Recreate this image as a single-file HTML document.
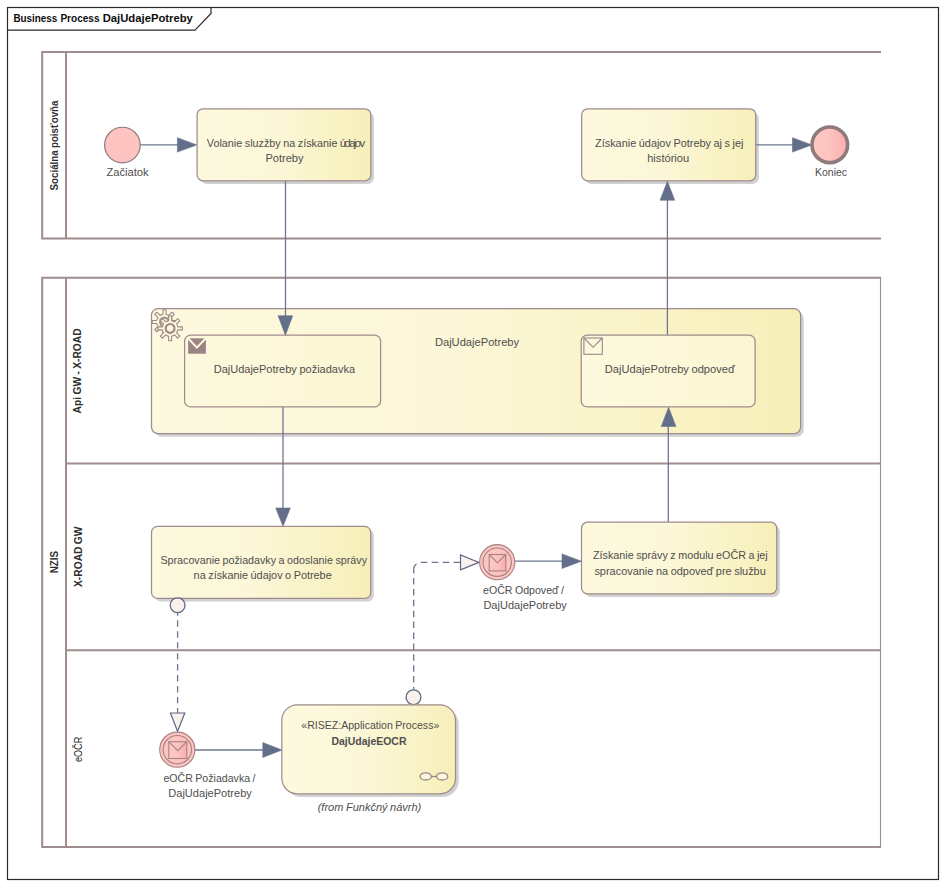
<!DOCTYPE html>
<html>
<head>
<meta charset="utf-8">
<title>Business Process DajUdajePotreby</title>
<style>
  html, body { margin: 0; padding: 0; background: #ffffff; }
  body { width: 945px; height: 886px; overflow: hidden; font-family: "Liberation Sans", sans-serif; }
  svg { display: block; }
  text { font-family: "Liberation Sans", sans-serif; font-size: 11.2px; fill: #4e4e4e; word-spacing: -0.5px; }
  .b { font-weight: bold; }
  .i { font-style: italic; }
  .ttl { font-weight: bold; font-size: 11.2px; fill: #0d0d0d; }
  .lane { font-weight: bold; font-size: 10.5px; fill: #2e2e2e; }
  .pool { stroke: #9f8c8c; stroke-width: 2; fill: none; }
  .pool1 { stroke: #a08d8d; stroke-width: 1.1; fill: none; }
  .seq { stroke: #6d7792; stroke-width: 1.3; fill: none; }
  .msg { stroke: #6b7490; stroke-width: 1.3; fill: none; stroke-dasharray: 6.4 4.55; }
  .ah { fill: #636e8a; stroke: #636e8a; stroke-width: 0.6; stroke-linejoin: miter; }
  .oh { fill: #fbf1ec; stroke: #5f6a86; stroke-width: 1.2; stroke-linejoin: miter; }
  .task { stroke: #a08c8c; stroke-width: 1.25; }
  .sh { fill: #cdcdcd; opacity: 0.9; }
</style>
</head>
<body>
<svg width="945" height="886" viewBox="0 0 945 886">
  <defs>
    <linearGradient id="gy" x1="0" y1="0" x2="1" y2="0">
      <stop offset="0" stop-color="#fdf9de"/>
      <stop offset="0.45" stop-color="#fcf7d8"/>
      <stop offset="1" stop-color="#f7efb9"/>
    </linearGradient>
    <linearGradient id="gy2" x1="0" y1="0" x2="1" y2="0">
      <stop offset="0" stop-color="#fdf9de"/>
      <stop offset="1" stop-color="#fbf6d3"/>
    </linearGradient>
    <linearGradient id="gp" x1="0" y1="0" x2="1" y2="0">
      <stop offset="0" stop-color="#fdc8c5"/>
      <stop offset="0.45" stop-color="#fdc4c1"/>
      <stop offset="1" stop-color="#fbaeac"/>
    </linearGradient>
    <filter id="blur" x="-5%" y="-5%" width="110%" height="110%">
      <feGaussianBlur stdDeviation="0.55"/>
    </filter>
  </defs>

  <rect x="0" y="0" width="945" height="886" fill="#ffffff"/>

  <!-- outer frame -->
  <rect x="7.5" y="7.5" width="931" height="872" fill="none" stroke="#2b2b2b" stroke-width="1.2"/>
  <path d="M7.5 30.2 H195 L211 13.5 V7.5" fill="none" stroke="#2b2b2b" stroke-width="1.2"/>
  <text class="ttl" x="13.4" y="21.7" textLength="43.9" lengthAdjust="spacingAndGlyphs">Business</text>
  <text class="ttl" x="60.4" y="21.7" textLength="39.1" lengthAdjust="spacingAndGlyphs">Process</text>
  <text class="ttl" x="102.7" y="21.7" textLength="90.2" lengthAdjust="spacingAndGlyphs">DajUdajePotreby</text>

  <!-- pool 1 -->
  <path class="pool" d="M881 52 H42.2 V238.5 H881"/>
  <path class="pool" d="M66 52 V238.5"/>

  <!-- pool 2 -->
  <path class="pool" d="M881.1 277.8 H42.2 V847 H881.1"/>
  <path class="pool1" d="M880.5 277.8 V847"/>
  <path class="pool" d="M66 277.8 V847"/>
  <path class="pool" d="M66 463.6 H880.5"/>
  <path class="pool" d="M66 650.2 H880.5"/>

  <!-- lane labels -->
  <text class="lane" transform="translate(58.4,190.5) rotate(-90)" textLength="90" lengthAdjust="spacingAndGlyphs">Sociálna poisťovňa</text>
  <text class="lane" transform="translate(57.9,573.3) rotate(-90)" textLength="22.4" lengthAdjust="spacingAndGlyphs">NZIS</text>
  <text class="lane" transform="translate(81.4,413.4) rotate(-90)" textLength="85" lengthAdjust="spacingAndGlyphs">Api GW - X-ROAD</text>
  <text class="lane" transform="translate(82.2,587) rotate(-90)" textLength="60.5" lengthAdjust="spacingAndGlyphs">X-ROAD GW</text>
  <text class="lane" style="font-weight:normal;font-size:11.2px;fill:#1a1a1a" transform="translate(81.9,762) rotate(-90)" textLength="25.2" lengthAdjust="spacingAndGlyphs">eOČR</text>

  <!-- shadows -->
  <rect class="sh" x="200.3" y="112.0" width="173.7" height="72.0" rx="6.5" filter="url(#blur)"/>
  <rect class="sh" x="584.9" y="112.0" width="174.0" height="72.0" rx="6.5" filter="url(#blur)"/>
  <rect class="sh" x="154.7" y="529.6" width="219.2" height="72.0" rx="6.5" filter="url(#blur)"/>
  <rect class="sh" x="584.7" y="525.4" width="195.2" height="71.6" rx="6.5" filter="url(#blur)"/>
  <rect class="sh" x="154.7" y="311.9" width="649.1" height="124.9" rx="7.0" filter="url(#blur)"/>
  <rect class="sh" x="285.0" y="708.0" width="173.7" height="89.0" rx="16.0" filter="url(#blur)"/>

  <!-- ===== connectors (under shapes) ===== -->
  <path class="seq" d="M139.5 144.9 H178"/>
  <path class="ah" d="M177.4 137.7 L196.7 144.9 L177.4 152.1 Z"/>
  <path class="seq" d="M756 144.9 H793"/>
  <path class="ah" d="M792.5 137.7 L811.8 144.9 L792.5 152.1 Z"/>


  <!-- ===== sub-process container ===== -->
  <rect class="task" x="151.5" y="308.7" width="649.1" height="124.9" rx="6.5" fill="url(#gy)"/>
  <text x="434.9" y="346.2" textLength="84.2" lengthAdjust="spacingAndGlyphs">DajUdajePotreby</text>

  <path class="seq" d="M285.5 181 V316"/>
  <path class="seq" d="M283 407 V508.5"/>
  <path class="seq" d="M668.3 522 V426"/>
  <path class="seq" d="M667.4 335.4 V200"/>

  <!-- inner tasks -->
  <rect class="task" x="184.6" y="335.1" width="196" height="71.8" rx="6" fill="url(#gy2)"/>
  <rect class="task" x="581.2" y="335.1" width="173.9" height="71.8" rx="6" fill="url(#gy2)"/>
  <text x="213.7" y="372.9" textLength="141.4" lengthAdjust="spacingAndGlyphs">DajUdajePotreby požiadavka</text>
  <text x="604.8" y="372.9" textLength="130" lengthAdjust="spacingAndGlyphs">DajUdajePotreby odpoveď</text>

  <!-- filled envelope -->
  <g>
    <rect x="188.1" y="338.3" width="17.8" height="15.4" fill="#9a8484"/>
    <path d="M187.6 337.8 L196.9 347.6 L206.3 337.8" fill="none" stroke="#fdf9de" stroke-width="2"/>
  </g>
  <!-- outline envelope -->
  <g fill="none" stroke="#9b8686" stroke-width="1.1">
    <rect x="583.9" y="338" width="18.4" height="16.3" fill="#fdf9de"/>
    <path d="M583.9 338 L593.1 347.3 L602.3 338"/>
  </g>

  <!-- gears icon -->
  <g fill="#fcf7da" stroke="#9b8686" stroke-width="1.05" stroke-linejoin="round">
    <g transform="translate(164.5,322)">
      <path id="gear" d="M7.76 -1.50 L12.30 -1.50 L12.30 1.50 L7.76 1.50 A7.90 7.90 0 0 1 6.55 4.42 L9.76 7.64 L7.64 9.76 L4.42 6.55 A7.90 7.90 0 0 1 1.50 7.76 L1.50 12.30 L-1.50 12.30 L-1.50 7.76 A7.90 7.90 0 0 1 -4.42 6.55 L-7.64 9.76 L-9.76 7.64 L-6.55 4.42 A7.90 7.90 0 0 1 -7.76 1.50 L-12.30 1.50 L-12.30 -1.50 L-7.76 -1.50 A7.90 7.90 0 0 1 -6.55 -4.42 L-9.76 -7.64 L-7.64 -9.76 L-4.42 -6.55 A7.90 7.90 0 0 1 -1.50 -7.76 L-1.50 -12.30 L1.50 -12.30 L1.50 -7.76 A7.90 7.90 0 0 1 4.42 -6.55 L7.64 -9.76 L9.76 -7.64 L6.55 -4.42 A7.90 7.90 0 0 1 7.76 -1.50 Z"/>
      <circle r="4.4" stroke-width="2.2" stroke="#a69393"/>
    </g>
    <g transform="translate(170.1,328.4)">
      <use href="#gear"/>
      <circle r="4.4" stroke-width="2.2" stroke="#a08c8c"/>
    </g>
  </g>

  <!-- arrowheads into/out of container -->
  <path class="ah" d="M278.1 315.8 L285.4 335.2 L292.7 315.8 Z"/>
  <path class="ah" d="M661.3 426.4 L668.6 407.2 L675.9 426.4 Z"/>
  <path class="ah" d="M660.1 200.2 L667.4 181.2 L674.7 200.2 Z"/>
  <path class="ah" d="M275.7 508 L283 526.2 L290.3 508 Z"/>

  <!-- ===== pool1 shapes ===== -->
  <circle cx="122.4" cy="145.05" r="17.8" fill="#fdc4c1" stroke="#8d7a7a" stroke-width="1.2"/>
  <text x="106.5" y="175.8" textLength="42" lengthAdjust="spacingAndGlyphs">Začiatok</text>

  <rect class="task" x="197.1" y="108.8" width="173.7" height="72" rx="6" fill="url(#gy)"/>
  <text x="206.8" y="146.9" textLength="130.6" lengthAdjust="spacingAndGlyphs">Volanie sluzžby na získanie</text>
  <text x="339.8" y="146.9" textLength="25.3" lengthAdjust="spacing">údajov</text>
  <text x="265.4" y="162.1" textLength="38.1" lengthAdjust="spacingAndGlyphs">Potreby</text>

  <rect class="task" x="581.7" y="108.8" width="174" height="72" rx="6" fill="url(#gy)"/>
  <text x="595" y="146.9" textLength="148.5" lengthAdjust="spacingAndGlyphs">Získanie údajov Potreby aj s jej</text>
  <text x="647.2" y="162.1" textLength="42" lengthAdjust="spacingAndGlyphs">históriou</text>

  <circle cx="829.8" cy="144.8" r="17.8" fill="url(#gp)" stroke="#8f7b7b" stroke-width="3.6"/>
  <text x="815" y="175.8" textLength="32.1" lengthAdjust="spacingAndGlyphs">Koniec</text>

  <!-- ===== X-ROAD GW lane ===== -->
  <rect class="task" x="151.5" y="526.4" width="219.2" height="72" rx="6" fill="url(#gy)"/>
  <text x="160.4" y="563.6" textLength="206.6" lengthAdjust="spacingAndGlyphs">Spracovanie požiadavky a odoslanie správy</text>
  <text x="193.6" y="579.4" textLength="138.1" lengthAdjust="spacingAndGlyphs">na získanie údajov o Potrebe</text>

  <rect class="task" x="581.5" y="522.2" width="195.2" height="71.6" rx="6" fill="url(#gy)"/>
  <text x="593" y="558.8" textLength="174.7" lengthAdjust="spacingAndGlyphs">Získanie správy z modulu eOČR a jej</text>
  <text x="594.4" y="574.5" textLength="171.4" lengthAdjust="spacingAndGlyphs">spracovanie na odpoveď pre službu</text>

  <!-- message flow 1 -->
  <path class="msg" d="M177.6 609.35 V712.9"/>
  <circle cx="177.6" cy="605.3" r="7.4" fill="#fbf1ec" stroke="#5f6a86" stroke-width="1.3"/>
  <path class="oh" d="M170.4 713 H184.8 L177.6 731.3 Z"/>

  <!-- message flow 2 -->
  <path class="msg" style="stroke-dasharray:6.5 4.4" d="M413.7 693.5 V577.6"/>
  <path class="seq" style="stroke-width:1.3" d="M413.7 573.4 V569.8 Q413.7 565.6 416.6 564.2"/>
  <path class="msg" style="stroke-dasharray:6.6 4.4" d="M420.7 562.3 H460.4"/>
  <circle cx="413.5" cy="697.2" r="7.4" fill="#fbf1ec" stroke="#5f6a86" stroke-width="1.3"/>
  <path class="oh" d="M460.5 554.9 V569.9 L478.9 562.4 Z"/>

  <!-- intermediate event: eOČR Odpoveď -->
  <path class="seq" d="M514 561.2 H562.5"/>
  <path class="ah" d="M562 553.9 L581.4 561.2 L562 568.5 Z"/>
  <g>
    <circle cx="497.2" cy="562.2" r="17.6" fill="#fdc4c1" stroke="#a58383" stroke-width="1.1"/>
    <circle cx="497.2" cy="562.2" r="14.2" fill="none" stroke="#a58383" stroke-width="1.1"/>
    <rect x="489.2" y="554.5" width="16.6" height="16.4" fill="url(#gp)" stroke="#a58383" stroke-width="1.1"/>
    <path d="M489.2 554.5 L497.5 562.8 L505.8 554.5" fill="none" stroke="#a58383" stroke-width="1.1"/>
  </g>
  <text x="483" y="594.4" textLength="81" lengthAdjust="spacingAndGlyphs">eOČR Odpoveď /</text>
  <text x="483.4" y="609.0" textLength="83.4" lengthAdjust="spacingAndGlyphs">DajUdajePotreby</text>

  <!-- ===== eOČR lane ===== -->
  <path class="seq" d="M194 750 H263.5"/>
  <path class="ah" d="M262.8 742.6 L282 750 L262.8 757.4 Z"/>
  <g>
    <circle cx="177.3" cy="749.7" r="17.6" fill="#fdc4c1" stroke="#a58383" stroke-width="1.1"/>
    <circle cx="177.3" cy="749.7" r="14.2" fill="none" stroke="#a58383" stroke-width="1.1"/>
    <rect x="168.8" y="741.7" width="18" height="16.8" fill="url(#gp)" stroke="#a58383" stroke-width="1.1"/>
    <path d="M168.8 741.7 L177.8 750.7 L186.8 741.7" fill="none" stroke="#a58383" stroke-width="1.1"/>
  </g>
  <text x="163.4" y="782.0" textLength="92.1" lengthAdjust="spacingAndGlyphs">eOČR Požiadavka /</text>
  <text x="168.3" y="797.2" textLength="83.5" lengthAdjust="spacingAndGlyphs">DajUdajePotreby</text>

  <rect class="task" x="281.8" y="704.8" width="173.7" height="89" rx="15.5" fill="url(#gy)"/>
  <text x="301.3" y="728.7" textLength="138" lengthAdjust="spacingAndGlyphs">«RISEZ:Application Process»</text>
  <text class="b" x="331.4" y="744.6" textLength="75.1" lengthAdjust="spacingAndGlyphs">DajUdajeEOCR</text>
  <g fill="#fdf9de" stroke="#9b8686" stroke-width="1.35">
    <path d="M431.3 776.5 H436.6" fill="none"/>
    <ellipse cx="425.7" cy="776.4" rx="5.6" ry="3.6"/>
    <ellipse cx="442.2" cy="776.4" rx="5.6" ry="3.6"/>
  </g>
  <text class="i" x="317.7" y="811.2" textLength="103.6" lengthAdjust="spacingAndGlyphs">(from Funkčný návrh)</text>
</svg>
</body>
</html>
